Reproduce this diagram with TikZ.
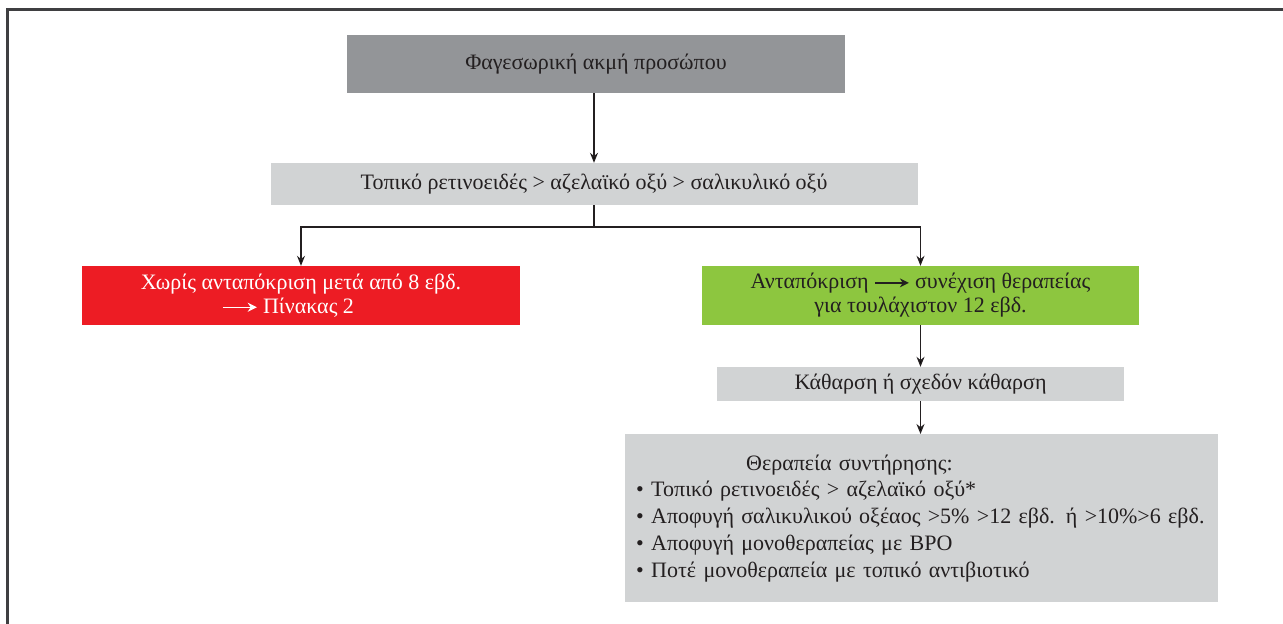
\documentclass[tikz,border=0pt]{standalone}
\usepackage{fontspec}
\setmainfont{Liberation Serif}
\usetikzlibrary{arrows.meta,positioning}
\definecolor{boxdark}{HTML}{939598}
\definecolor{boxlight}{HTML}{D1D3D4}
\definecolor{boxred}{HTML}{ED1C24}
\definecolor{boxgreen}{HTML}{8DC63F}
\definecolor{inkdark}{HTML}{231F20}
\definecolor{framegray}{HTML}{3F3F41}
\newcommand{\txtarrow}[1]{\tikz[baseline=-0.6ex]\draw[draw=#1,line width=1.5pt,-{Stealth[length=9pt,width=9pt]}] (0,0)--(34pt,0);}

\begin{document}
\begin{tikzpicture}[x=1pt,y=-1pt,font=\fontsize{22}{24}\selectfont,
 box/.style={rectangle,inner sep=0pt,align=center,text=inkdark},
 arr/.style={-{Stealth[length=10pt,width=8pt]},line width=1.2pt,draw=inkdark}]
\useasboundingbox (0,0) rectangle (1283,624);
\draw[line width=3pt,draw=framegray] (7,624) -- (7,9) -- (1283,9);
\node[box,fill=boxdark,minimum width=498pt,minimum height=58pt] (face) at (596,64) {Φαγεσωρική ακμή προσώπου};
\node[box,fill=boxlight,minimum width=647pt,minimum height=42pt] (topical) at (594,184) {Τοπικό ρετινοειδές > αζελαϊκό οξύ > σαλικυλικό οξύ};
\node[box,fill=boxred,text=white,minimum width=438pt,minimum height=59pt] (nores) at (301,295.5) {Χωρίς ανταπόκριση μετά από 8 εβδ.\\\txtarrow{white} Πίνακας 2\hspace*{26pt}};
\node[box,fill=boxgreen,minimum width=437pt,minimum height=59pt] (resp) at (920.5,295.5) {Ανταπόκριση \txtarrow{inkdark} συνέχιση θεραπείας\\για τουλάχιστον 12 εβδ.};
\node[box,fill=boxlight,minimum width=407pt,minimum height=34pt] (clear) at (920.5,384) {Κάθαρση ή σχεδόν κάθαρση};
\node[box,fill=boxlight,align=left,text width=571pt,inner xsep=11pt,minimum height=168pt,anchor=north west,font=\fontsize{22}{26.7}\selectfont] (maint) at (625,434) {\hspace*{110pt}Θεραπεία συντήρησης:\\
• Τοπικό ρετινοειδές > αζελαϊκό οξύ*\\
• Αποφυγή σαλικυλικού οξέαος >5\% >12 εβδ. ή >10\%>6 εβδ.\\
• Αποφυγή μονοθεραπείας με BPO\\
• Ποτέ μονοθεραπεία με τοπικό αντιβιοτικό};
\coordinate (split) at (594,227);
\draw[arr] (face.south -| topical.north) -- (topical.north);
\draw[line width=1.2pt,draw=inkdark] (topical.south) -- (split);
\draw[arr] (split) -| (nores);
\draw[arr] (split) -| (resp);
\draw[arr] (resp) -- (clear);
\draw[arr] (clear.south) -- (clear.south |- maint.north);
\end{tikzpicture}
\end{document}
